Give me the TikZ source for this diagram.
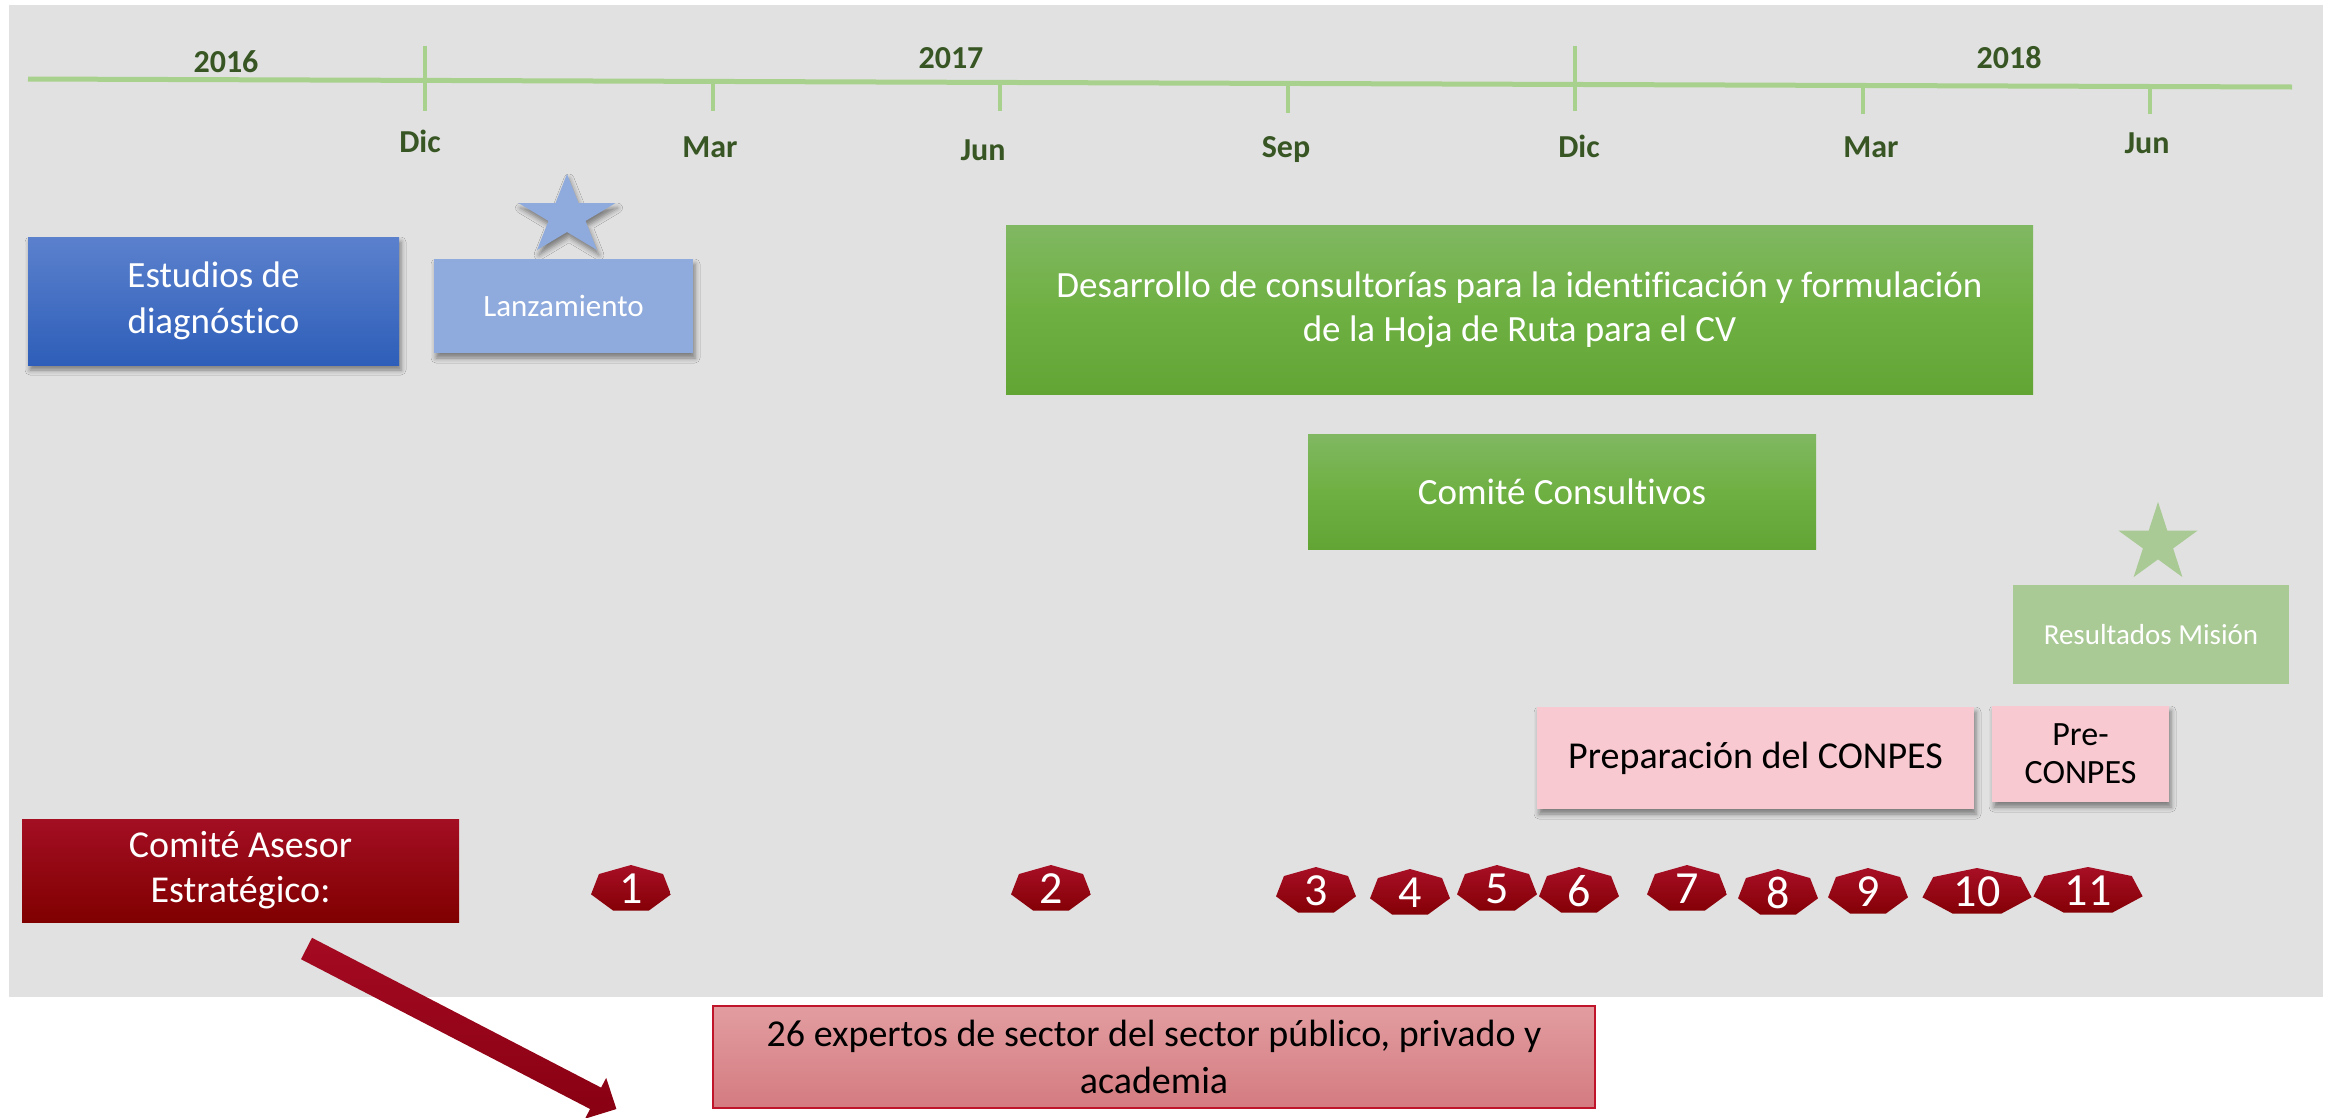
\documentclass[tikz,border=0pt]{standalone}
\usepackage{fontspec}
\setmainfont[Ligatures={NoCommon}]{Carlito}
\usetikzlibrary{shadows.blur}
\definecolor{bg}{HTML}{E1E1E1}
\definecolor{tl}{HTML}{A9D18E}
\definecolor{lbl}{HTML}{375623}
\definecolor{bluetop}{HTML}{5B81CD}
\definecolor{bluebot}{HTML}{2E5EB9}
\definecolor{lblue}{HTML}{8FAADC}
\definecolor{gtop}{HTML}{80B862}
\definecolor{gmid}{HTML}{6FB042}
\definecolor{gbot}{HTML}{62A535}
\definecolor{lgreen}{HTML}{A9C995}
\definecolor{pinkbox}{HTML}{F8C9D0}
\definecolor{rtop}{HTML}{A30E23}
\definecolor{rbot}{HTML}{800000}
\definecolor{htop}{HTML}{A80F25}
\definecolor{hbot}{HTML}{840006}
\definecolor{ptop}{HTML}{E29DA0}
\definecolor{pbot}{HTML}{D47B80}
\definecolor{pborder}{HTML}{C0142A}
\definecolor{atop}{HTML}{A50A22}
\definecolor{abot}{HTML}{880012}
\newcommand\fsz[2]{\fontsize{#1}{#2}\selectfont}
\newcommand\hept[3]{\shade[top color=htop, bottom color=hbot, shift={(#1,#2)}]
  (-90:#3 and 24) -- (-38.571:#3 and 24) -- (12.857:#3 and 24) -- (64.286:#3 and 24)
  -- (115.714:#3 and 24) -- (167.143:#3 and 24) -- (218.571:#3 and 24) -- cycle;}
\begin{document}
\begin{tikzpicture}[x=1pt,y=-1pt,
  box/.style={rectangle, inner sep=0pt, align=center, draw=none},
  shad/.style={blur shadow={shadow xshift=2pt, shadow yshift=-5pt, shadow blur radius=5pt, shadow opacity=45}},
  tickmark/.style={draw=tl, line width=4pt},
  yearlbl/.style={anchor=base, text=lbl, font=\fsz{32}{38}\bfseries},
  monthlbl/.style={anchor=base, text=lbl, font=\fsz{32}{38}\bfseries},
  greenbox/.style={box, top color=gtop, bottom color=gbot, middle color=gmid, text=white, font=\fsz{37}{44}},
  pinkstyle/.style={box, fill=pinkbox, text=black, shad},
  hnum/.style={inner sep=0pt, text=white, font=\fsz{46}{46}}
]
\useasboundingbox (0,0) rectangle (2336,1117);
\clip (0,0) rectangle (2336,1117);
\fill[white] (0,0) rectangle (2336,1117);
\fill[bg] (9,5) rectangle (2323,997);

% timeline
\draw[draw=tl, line width=5pt] (28,79) -- (2292,87);
\draw[tickmark] (425,46) -- (425,111);
\draw[tickmark] (713,81) -- (713,111);
\draw[tickmark] (1000,82) -- (1000,111);
\draw[tickmark] (1288,83) -- (1288,113);
\draw[tickmark] (1575,46) -- (1575,111);
\draw[tickmark] (1863,85) -- (1863,114);
\draw[tickmark] (2150,86) -- (2150,114);

\node[yearlbl] (y16) at (226,72) {2016};
\node[yearlbl] (y17) at (951,68) {2017};
\node[yearlbl] (y18) at (2009,68) {2018};
\node[monthlbl] (m1) at (420,152) {Dic};
\node[monthlbl] (m2) at (710,157) {Mar};
\node[monthlbl] (m3) at (983,160) {Jun};
\node[monthlbl] (m4) at (1286,157) {Sep};
\node[monthlbl] (m5) at (1579,157) {Dic};
\node[monthlbl] (m6) at (1871,157) {Mar};
\node[monthlbl] (m7) at (2147,153) {Jun};

% boxes
\node[box, top color=bluetop, bottom color=bluebot, text=white, shad,
  minimum width=371pt, minimum height=128pt, font=\fsz{37}{46}] (estudios) at (213.5,301) {Estudios de\\diagnóstico};

\fill[lblue, shad, shift={(567,216)}]
  (-90:51 and 42) -- (-54:19.5 and 16) -- (-18:51 and 42) -- (18:19.5 and 16)
  -- (54:51 and 42) -- (90:19.5 and 16) -- (126:51 and 42) -- (162:19.5 and 16)
  -- (198:51 and 42) -- (234:19.5 and 16) -- cycle;
\node[box, fill=lblue, text=white, shad, minimum width=259pt, minimum height=94pt,
  font=\fsz{31}{37}] (lanz) at (563.5,306) {Lanzamiento};

\node[greenbox, minimum width=1027pt, minimum height=169pt] (desarrollo) at (1519.5,309.5)
  {Desarrollo de consultorías para la identificación y formulación\\de la Hoja de Ruta para el CV};
\node[greenbox, minimum width=508pt, minimum height=115pt] (consult) at (1562,491.5) {Comité Consultivos};

\fill[lgreen, shift={(2158,543.5)}]
  (-90:41.5 and 41.5) -- (-54:15.85 and 15.85) -- (-18:41.5 and 41.5) -- (18:15.85 and 15.85)
  -- (54:41.5 and 41.5) -- (90:15.85 and 15.85) -- (126:41.5 and 41.5) -- (162:15.85 and 15.85)
  -- (198:41.5 and 41.5) -- (234:15.85 and 15.85) -- cycle;
\node[box, fill=lgreen, text=white, minimum width=276pt, minimum height=99pt,
  font=\fsz{29}{35}] (result) at (2151,634.5) {Resultados Misión};

\node[pinkstyle, minimum width=437pt, minimum height=102pt, font=\fsz{38}{45}] (prep) at (1755.5,758) {Preparación del CONPES};
\node[pinkstyle, minimum width=177pt, minimum height=96pt, font=\fsz{34}{38}] (pre) at (2080.5,754) {Pre-\\CONPES};

\node[box, top color=rtop, bottom color=rbot, text=white, minimum width=437pt, minimum height=103pt,
  font=\fsz{38}{45}] (asesor) at (240.5,870.5) {Comité Asesor\\Estratégico:};

% heptagons
\hept{631}{889}{41}   \node[hnum] (n1) at (631,889) {1};
\hept{1051}{889}{41}  \node[hnum] (n2) at (1051,889) {2};
\hept{1316}{891}{41}  \node[hnum] (n3) at (1316,891) {3};
\hept{1410}{893}{41}  \node[hnum] (n4) at (1410,893) {4};
\hept{1497}{889}{41}  \node[hnum] (n5) at (1497,889) {5};
\hept{1579}{891}{41}  \node[hnum] (n6) at (1579,891) {6};
\hept{1687}{889}{41}  \node[hnum] (n7) at (1687,889) {7};
\hept{1778}{893}{41}  \node[hnum] (n8) at (1778,893) {8};
\hept{1868}{892}{41}  \node[hnum] (n9) at (1868,892) {9};
\hept{1977}{892}{56}  \node[hnum] (n10) at (1977,892) {10};
\hept{2088}{891}{56}  \node[hnum] (n11) at (2088,891) {11};

% block arrow
\shade[top color=atop, bottom color=abot]
  (312,937.8) -- (601.1,1087.6) -- (606.2,1077.9) -- (616.4,1109) -- (585,1118.7)
  -- (590.1,1109) -- (301,959.2) -- cycle;

\node[box, top color=ptop, bottom color=pbot, draw=pborder, line width=2pt, text=black,
  minimum width=882pt, minimum height=102pt, font=\fsz{38}{47}] (expertos) at (1154,1057)
  {26 expertos de sector del sector público, privado y\\academia};
\end{tikzpicture}
\end{document}
